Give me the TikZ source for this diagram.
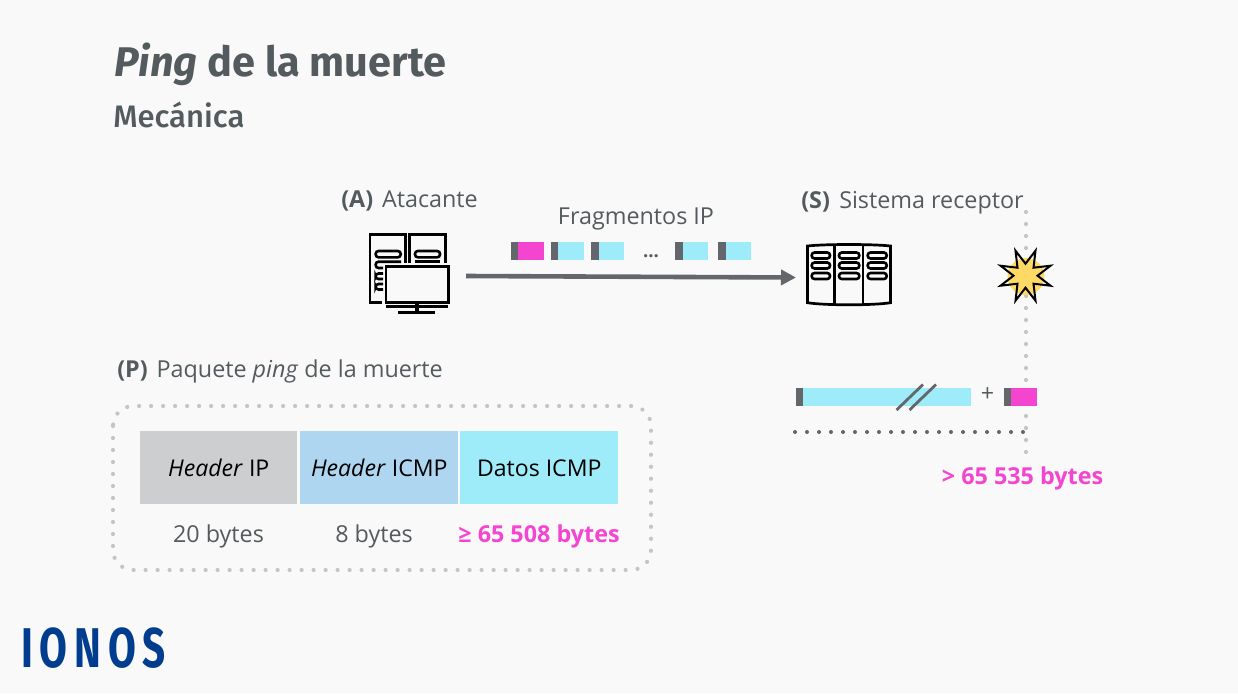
\documentclass[tikz,border=0pt]{standalone}
\usepackage{fontspec}
\setmainfont{Open Sans}
\newfontfamily\titlefont{Fira Sans}
\newfontfamily\subfont{Fira Sans Medium}
\newfontfamily\logofont[LetterSpace=17]{Fira Sans}
\usetikzlibrary{arrows.meta}
\definecolor{bgc}{HTML}{F9F9F9}
\definecolor{txt}{HTML}{545B5E}
\definecolor{pinkc}{HTML}{F445D0}
\definecolor{cyanc}{HTML}{9EECFA}
\definecolor{greyb}{HTML}{CDCED0}
\definecolor{blueb}{HTML}{AFD6F1}
\definecolor{darkb}{HTML}{63666A}
\definecolor{dotc}{HTML}{C4C5C7}
\definecolor{yel}{HTML}{FFD966}
\definecolor{logoc}{HTML}{003D8F}
\newcommand{\px}{0.75pt}
\newcommand{\frag}[4]{\fill[darkb] (#1,#4) rectangle (#2,#4+18);\fill[#3] (#2,#4) rectangle (#1+33,#4+18);}
\tikzset{
 lbl/.style={anchor=base west,inner sep=0pt,text=txt,font=\fontsize{17.5}{20}\selectfont},
 mid/.style={anchor=base,inner sep=0pt,text=txt,font=\fontsize{17.5}{20}\selectfont},
 pinklbl/.style={anchor=base,inner sep=0pt,text=pinkc,font=\fontsize{17.5}{20}\selectfont\bfseries},
 hdr/.style={anchor=north west,inner sep=0pt,minimum height=73*\px,text=black,font=\fontsize{17.3}{20}\selectfont},
 icon/.style={line width=2.7*\px,black,line join=miter},
 pill/.style={line width=2.6*\px,black,rounded corners=2.8*\px},
 dotsg/.style={dotc,line width=4.2*\px,line cap=round,dash pattern=on 0pt off 9pt},
 dotsd/.style={darkb,line width=4*\px,line cap=round,dash pattern=on 0pt off 9pt},
}
\begin{document}
\begin{tikzpicture}[x=0.75pt,y=-0.75pt]
\fill[bgc] (0,0) rectangle (1238,693);
\useasboundingbox (0,0) rectangle (1238,693);
% titles
\node[anchor=base west,inner sep=0pt,text=txt,font=\titlefont\fontsize{31.1}{34}\selectfont\bfseries] (title) at (114,76) {\textit{Ping} de la muerte};
\node[anchor=base west,inner sep=0pt,text=txt,font=\subfont\fontsize{23.3}{26}\selectfont] (sub) at (113,127) {Mecánica};
% labels
\node[lbl] (la) at (341,207) {\textbf{(A)}\hspace{0.38em}Atacante};
\node[mid] (lf) at (636,224) {Fragmentos IP};
\node[lbl] (ls) at (801,208) {\textbf{(S)}\hspace{0.4em}Sistema receptor};
\node[lbl] (lp) at (117,377) {\textbf{(P)}\hspace{0.38em}Paquete \textit{ping} de la muerte};
% vertical dotted line
\coordinate (vt) at (1026,212);
\coordinate (vb) at (1026,455);
\draw[dotsg] (vt) -- (vb);
% computer icon
\draw[icon] (382,302.3) -- (370,302.3) -- (370,234.7) -- (405.7,234.7) -- (405.7,263);
\draw[icon] (409.3,263) -- (409.3,234.7) -- (445.7,234.7) -- (445.7,263);
\draw[pill] (375.7,251) rectangle (400.7,257.3);
\draw[pill] (415,251) rectangle (440,257.3);
\draw[icon] (415,261.7) -- (440,261.7);
\draw[pill] (401,261.7) -- (375.7,261.7) -- (375.7,268) -- (383,268);
\draw[pill] (383,273.5) -- (375.7,273.5) -- (375.7,279) -- (383,279);
\draw[pill] (383,284) -- (375.7,284) -- (375.7,289.5) -- (383,289.5);
\draw[icon] (386,266.7) rectangle (448.3,302.3);
\draw[icon] (385.7,306.7) -- (448.3,306.7);
\draw[line width=4*\px,black] (416.7,302.3) -- (416.7,312.3);
\draw[icon] (398.3,312.3) -- (435,312.3);
% server icon
\draw[icon] (807.5,246) .. controls (825,244) and (873,244) .. (890.5,246) -- (890.5,302.7) .. controls (873,305.5) and (825,305.5) .. (807.5,302.7) -- cycle;
\draw[icon] (834.3,244.6) -- (834.3,304.6);
\draw[icon] (863,244.6) -- (863,304.6);
\foreach \yy in {255.5,265.5,276}{
 \draw[pill] (811.7,\yy-3) rectangle (830,\yy+3);
 \draw[pill] (839,\yy-3) rectangle (859.3,\yy+3);
 \draw[pill] (867.7,\yy-3) rectangle (886.7,\yy+3);
}
% arrow
\coordinate (as) at (466,276);
\coordinate (ae) at (796,277.5);
\draw[darkb,line width=4.6*\px,-{Triangle[length=15*\px,width=15*\px]}] (as) -- (ae);
% fragments
\frag{511}{518}{pinkc}{242}
\frag{551}{558}{cyanc}{242}
\frag{591}{599}{cyanc}{242}
\frag{675}{683}{cyanc}{242}
\frag{718}{726}{cyanc}{242}
\node[anchor=base,inner sep=0pt,text=txt,font=\fontsize{14}{15}\selectfont\bfseries] (dots) at (651,257) {...};
% explosion
\fill[yel] (1026,276.5) circle (18.5);
\draw[line width=2*\px,black,line join=miter,miter limit=20]
 (1025.5+25,275.7-10) -- (1025.5+8,275.7-8) -- (1025.5+10,275.7-25) -- (1025.5,275.7-12) -- (1025.5-10,275.7-25) -- (1025.5-8,275.7-8) -- (1025.5-25,275.7-10) -- (1025.5-12,275.7) -- (1025.5-25,275.7+10) -- (1025.5-8,275.7+8) -- (1025.5-10,275.7+25) -- (1025.5,275.7+12) -- (1025.5+10,275.7+25) -- (1025.5+8,275.7+8) -- (1025.5+25,275.7+10) -- (1025.5+12,275.7) -- cycle;
% long packet
\fill[darkb] (796,388) rectangle (803,406);
\fill[cyanc] (803,388) rectangle (971,406);
\draw[darkb,line width=2.8*\px] (896.5,410) -- (923,384.5);
\draw[darkb,line width=2.8*\px] (909.5,410) -- (936,384.5);
\node[anchor=base,inner sep=0pt,text=txt,font=\fontsize{17.5}{20}\selectfont] (plus) at (987.5,401) {+};
\frag{1004}{1011}{pinkc}{388}
\coordinate (hs) at (795,432);
\coordinate (he) at (1025,432);
\draw[dotsd] (hs) -- (he);
\node[pinklbl] (l65) at (1022.5,484) {> 65 535 bytes};
% packet box
\draw[dotsg,rounded corners=20*\px] (113,406) rectangle (651,570);
\node[hdr,fill=greyb,minimum width=157*\px] (h1) at (140,431) {\textit{Header} IP};
\node[hdr,fill=blueb,minimum width=158*\px] (h2) at (300,431) {\textit{Header} ICMP};
\node[hdr,fill=cyanc,minimum width=158*\px] (h3) at (460,431) {Datos ICMP};
\node[mid] (b1) at (218.5,542) {20 bytes};
\node[mid] (b2) at (374,542) {8 bytes};
\node[pinklbl] (b3) at (539,542) {≥ 65 508 bytes};
% logo
\node[anchor=base west,inner sep=0pt,text=logoc] (logo) at (21,667) {\scalebox{0.72}[1]{\logofont\bfseries\fontsize{42}{43}\selectfont IONOS}};
\end{tikzpicture}
\end{document}
